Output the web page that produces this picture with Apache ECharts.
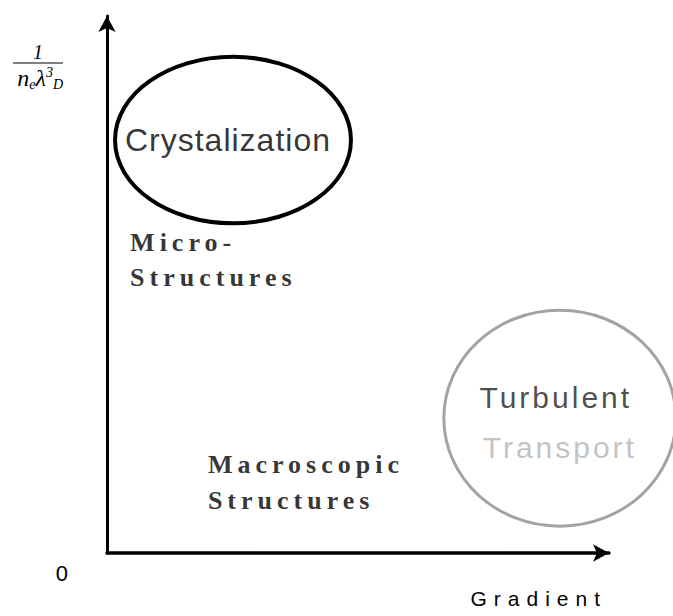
<!DOCTYPE html>
<html>
<head>
<meta charset="utf-8">
<script src="https://cdn.jsdelivr.net/npm/echarts@6/dist/echarts.min.js"></script>
<style>
  html, body { margin: 0; padding: 0; background: #fff; }
  #chart { width: 673px; height: 616px; }
  #chart text[style*="Arial"] { letter-spacing: 1px; }
  #chart text[style*="Helvetica"] { letter-spacing: 3px; }
  #chart text[style*="sans-serif"] { letter-spacing: 7px; }
  #chart text[style*="Times"] { letter-spacing: 5px; }
</style>
</head>
<body>
<div id="chart"></div>
<script>
// Regions drawn as ellipses on the (gradient, 1/(n_e λ_D^3)) plane, axis units 0..100
const regionNames = ['Crystalization', 'Turbulent Transport'];
const regionCenterX = [25.1, 90.2];
const regionCenterY = [76.9, 25.1];
const regionHalfWidth = [23.5, 23.1];
const regionHalfHeight = [15.5, 20.1];

// Text labels placed on the same plane
const labelTexts = ['Crystalization', 'Micro-\nStructures', 'Macroscopic\nStructures', 'Turbulent', 'Transport'];
const labelX = [24.1, 4.6, 20.1, 89.4, 90.2];
const labelY = [76.9, 54.5, 13.2, 28.9, 19.7];

// Axis tick labels
const yTickLabels = ['0'];
const xAxisTitle = 'Gradient';

const regionStyles = [
  { stroke: '#000000', lineWidth: 4 },
  { stroke: '#a3a3a3', lineWidth: 3 }
];
const labelStyles = [
  { position: 'inside', color: '#000', fontSize: 32, fontFamily: 'Liberation Sans, Arial' },
  { position: 'right', distance: 0, color: '#000', fontSize: 26, fontWeight: 'bold', fontFamily: 'Liberation Serif, Times', lineHeight: 35 },
  { position: 'right', distance: 0, color: '#000', fontSize: 26, fontWeight: 'bold', fontFamily: 'Liberation Serif, Times', lineHeight: 36 },
  { position: 'inside', color: '#1e1e1e', fontSize: 30, fontFamily: 'Liberation Sans, Helvetica' },
  { position: 'inside', color: '#b3b3b3', fontSize: 30, fontFamily: 'Liberation Sans, Helvetica' }
];

const regionData = regionNames.map((n, i) => ({
  name: n,
  value: [regionCenterX[i], regionCenterY[i], regionHalfWidth[i], regionHalfHeight[i], i]
}));

const labelData = labelTexts.map((t, i) => ({
  name: t,
  value: [labelX[i], labelY[i]],
  label: Object.assign({ show: true, formatter: '{b}' }, labelStyles[i])
}));

const chart = echarts.init(document.getElementById('chart'), null, { renderer: 'svg' });
chart.setOption({
  animation: false,
  backgroundColor: '#ffffff',
  grid: { left: 107, right: 64, top: 16, bottom: 63, containLabel: false, outerBoundsMode: 'none' },
  xAxis: {
    type: 'value', min: 0, max: 100, interval: 100,
    axisLine: { show: true, onZero: false, symbol: ['none', 'arrow'], symbolSize: [13, 16], lineStyle: { color: '#000', width: 3.5 } },
    axisTick: { show: false }, axisLabel: { show: false }, splitLine: { show: false },
    name: xAxisTitle, nameLocation: 'end', nameGap: -2,
    nameTextStyle: { align: 'right', verticalAlign: 'top', padding: [35, 0, 0, 0], fontSize: 21, color: '#000', fontFamily: 'Liberation Sans, sans-serif' }
  },
  yAxis: {
    type: 'value', min: 0, max: 100, interval: 100,
    axisLine: { show: true, onZero: false, symbol: ['none', 'arrow'], symbolSize: [13, 16], lineStyle: { color: '#000', width: 3 } },
    axisTick: { show: false }, splitLine: { show: false },
    axisLabel: {
      show: true, margin: 39, fontSize: 22, color: '#000', fontFamily: 'Liberation Sans',
      verticalAlign: 'top', padding: [9, 0, 0, 0],
      formatter: v => (v === 0 ? yTickLabels[0] : '')
    },
    name: '{num|1}\n{bar| }\n{d|n}{s|e}{d|λ}{p|3}{s|D}',
    nameLocation: 'end', nameGap: -27,
    nameTextStyle: {
      align: 'right', verticalAlign: 'top', padding: [0, 44, 0, 0], color: '#000',
      rich: {
        num: { fontSize: 20, fontFamily: 'Liberation Serif', fontStyle: 'italic', align: 'center', width: 50, lineHeight: 18, color: '#000' },
        bar: { width: 50, height: 1, fontSize: 1, lineHeight: 4, backgroundColor: '#000' },
        d: { fontSize: 24, fontFamily: 'Liberation Serif', fontStyle: 'italic', lineHeight: 26, color: '#000' },
        s: { fontSize: 14, fontFamily: 'Liberation Serif', fontStyle: 'italic', verticalAlign: 'bottom', lineHeight: 26, color: '#000' },
        p: { fontSize: 14, fontFamily: 'Liberation Serif', fontStyle: 'italic', verticalAlign: 'top', lineHeight: 26, color: '#000' }
      }
    }
  },
  series: [
    {
      type: 'custom',
      clip: false,
      data: regionData,
      renderItem: function (params, api) {
        const c = api.coord([api.value(0), api.value(1)]);
        const s = api.size([api.value(2), api.value(3)]);
        const st = regionStyles[api.value(4)];
        return {
          type: 'ellipse',
          shape: { cx: c[0], cy: c[1], rx: s[0], ry: s[1] },
          style: { fill: 'none', stroke: st.stroke, lineWidth: st.lineWidth }
        };
      }
    },
    {
      type: 'scatter',
      symbolSize: 0,
      clip: false,
      data: labelData,
      emphasis: { disabled: true }
    }
  ]
});
</script>
</body>
</html>
